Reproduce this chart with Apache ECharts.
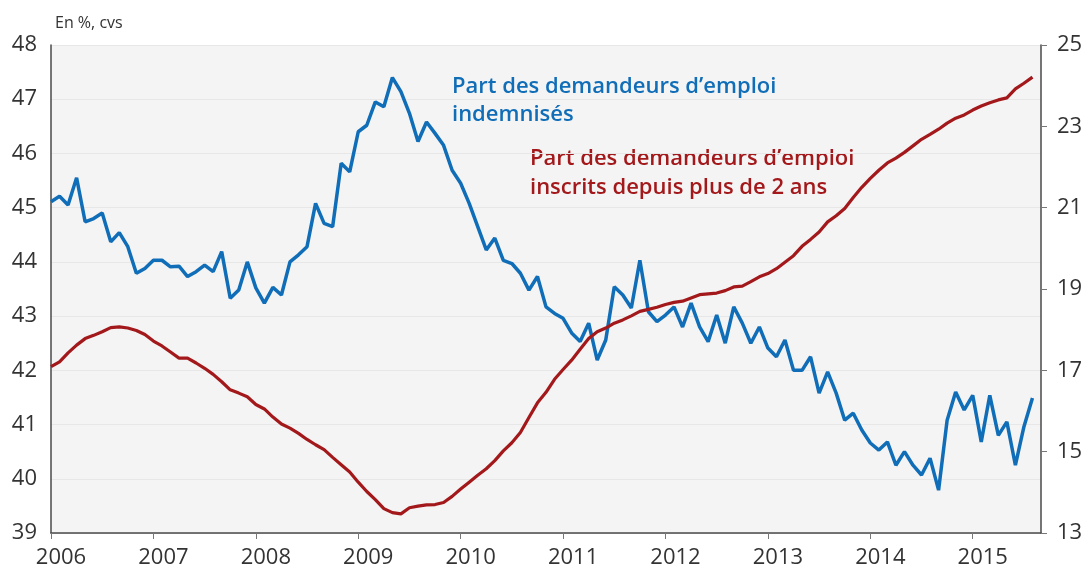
<!DOCTYPE html>
<html>
<head>
<meta charset="utf-8">
<script src="https://cdn.jsdelivr.net/npm/echarts@6/dist/echarts.min.js"></script>
<style>
  html, body { margin: 0; padding: 0; background: #fff; }
  #main { width: 1088px; height: 574px; }
</style>
</head>
<body>
<div id="main"></div>
<script>
var chart = echarts.init(document.getElementById('main'));

// months from jan 2006 to sep 2015 (last category is empty, axis ends there)
var years = ['2006', '2007', '2008', '2009', '2010', '2011', '2012', '2013', '2014', '2015'];
var months = [];
for (var y = 0; y < years.length; y++) {
    for (var m = 1; m <= 12; m++) {
        months.push(years[y] + '-' + (m < 10 ? '0' + m : m));
    }
}
months = months.slice(0, 117);

// part des demandeurs d'emploi indemnisés (axe gauche)
var indemnises = [
    45.11, 45.21, 45.05, 45.55, 44.74, 44.80, 44.90, 44.37, 44.54, 44.28, 43.79, 43.88,
    44.03, 44.03, 43.91, 43.92, 43.73, 43.82, 43.94, 43.82, 44.19, 43.33, 43.48, 44.00,
    43.52, 43.24, 43.53, 43.39, 44.00, 44.13, 44.28, 45.08, 44.71, 44.65, 45.82, 45.66,
    46.40, 46.52, 46.95, 46.86, 47.40, 47.14, 46.74, 46.22, 46.58, 46.37, 46.15, 45.69,
    45.45, 45.08, 44.65, 44.22, 44.44, 44.03, 43.97, 43.79, 43.48, 43.73, 43.17, 43.05,
    42.96, 42.69, 42.53, 42.87, 42.19, 42.56, 43.54, 43.39, 43.15, 44.03, 43.08, 42.90,
    43.02, 43.17, 42.80, 43.24, 42.80, 42.53, 43.02, 42.50, 43.17, 42.87, 42.50, 42.80,
    42.41, 42.25, 42.56, 42.00, 42.00, 42.25, 41.58, 41.97, 41.58, 41.08, 41.21, 40.90,
    40.66, 40.53, 40.68, 40.25, 40.50, 40.25, 40.07, 40.38, 39.79, 41.08, 41.60, 41.27,
    41.54, 40.68, 41.54, 40.80, 41.05, 40.25, 40.96, 41.49
];

// part des demandeurs d'emploi inscrits depuis plus de 2 ans (axe droit)
var plus2ans = [
    17.09, 17.21, 17.43, 17.62, 17.78, 17.86, 17.95, 18.05, 18.07, 18.04, 17.98, 17.88,
    17.72, 17.60, 17.45, 17.30, 17.30, 17.18, 17.05, 16.90, 16.72, 16.52, 16.44, 16.35,
    16.16, 16.05, 15.85, 15.68, 15.58, 15.45, 15.30, 15.17, 15.05, 14.86, 14.68, 14.50,
    14.25, 14.02, 13.82, 13.60, 13.50, 13.47, 13.62, 13.66, 13.69, 13.70, 13.75, 13.90,
    14.08, 14.25, 14.42, 14.58, 14.78, 15.02, 15.22, 15.47, 15.84, 16.20, 16.46, 16.78,
    17.02, 17.25, 17.52, 17.78, 17.95, 18.04, 18.16, 18.24, 18.34, 18.45, 18.50, 18.55,
    18.62, 18.67, 18.70, 18.78, 18.86, 18.88, 18.90, 18.96, 19.05, 19.07, 19.18, 19.30,
    19.38, 19.50, 19.66, 19.82, 20.05, 20.22, 20.40, 20.65, 20.80, 20.98, 21.25, 21.50,
    21.72, 21.92, 22.10, 22.22, 22.36, 22.52, 22.68, 22.80, 22.93, 23.08, 23.20, 23.28,
    23.40, 23.50, 23.58, 23.65, 23.70, 23.92, 24.06, 24.21
];

var blue = '#106db7';
var red = '#a3191b';
var font = "'Open Sans', sans-serif";

function isJanuary(index) {
    return index % 12 === 0;
}

var option = {
    animation: false,
    backgroundColor: '#fff',
    textStyle: { fontFamily: font },
    grid: {
        left: 51,
        right: 47,
        top: 45,
        bottom: 41,
        show: true,
        backgroundColor: '#f4f4f4',
        borderWidth: 0
    },
    xAxis: {
        type: 'category',
        data: months,
        boundaryGap: false,
        axisLine: { show: true, lineStyle: { color: '#4a4a4a', width: 1.5 } },
        axisTick: { show: true, interval: isJanuary, length: 6, lineStyle: { color: '#777' } },
        axisLabel: {
            interval: isJanuary,
            formatter: function (v) { return v.slice(0, 4); },
            fontSize: 22,
            color: '#333',
            margin: 14,
            padding: [0, 0, 0, 20]
        },
        splitLine: { show: false }
    },
    yAxis: [
        {
            type: 'value',
            min: 39,
            max: 48,
            interval: 1,
            axisLine: { show: true, lineStyle: { color: '#4a4a4a', width: 1.5 } },
            axisTick: { show: false },
            axisLabel: { fontSize: 22, color: '#333', margin: 14 },
            splitLine: { show: true, lineStyle: { color: '#e7e7e7', width: 1 } }
        },
        {
            type: 'value',
            min: 13,
            max: 25,
            interval: 2,
            position: 'right',
            axisLine: { show: true, lineStyle: { color: '#4a4a4a', width: 1.5 } },
            axisTick: { show: true, length: 6, lineStyle: { color: '#777' } },
            axisLabel: { fontSize: 22, color: '#333', margin: 16 },
            splitLine: { show: false }
        }
    ],
    graphic: [
        {
            type: 'text',
            left: 55,
            top: 15,
            style: { text: 'En %, cvs', font: '16px ' + font, fill: '#333' }
        },
        {
            type: 'text',
            left: 452,
            top: 73,
            style: {
                text: 'Part des demandeurs d’emploi\nindemnisés',
                font: '600 22px ' + font,
                fill: blue,
                lineHeight: 28
            }
        },
        {
            type: 'text',
            left: 530,
            top: 144,
            style: {
                text: 'Part des demandeurs d’emploi\ninscrits depuis plus de 2 ans',
                font: '600 22px ' + font,
                fill: red,
                lineHeight: 29
            }
        }
    ],
    series: [
        {
            name: 'Part des demandeurs d’emploi indemnisés',
            type: 'line',
            yAxisIndex: 0,
            data: indemnises,
            showSymbol: false,
            lineStyle: { color: blue, width: 3.5 },
            itemStyle: { color: blue }
        },
        {
            name: 'Part des demandeurs d’emploi inscrits depuis plus de 2 ans',
            type: 'line',
            yAxisIndex: 1,
            data: plus2ans,
            showSymbol: false,
            lineStyle: { color: red, width: 3.2 },
            itemStyle: { color: red }
        }
    ]
};

chart.setOption(option);
</script>
</body>
</html>
